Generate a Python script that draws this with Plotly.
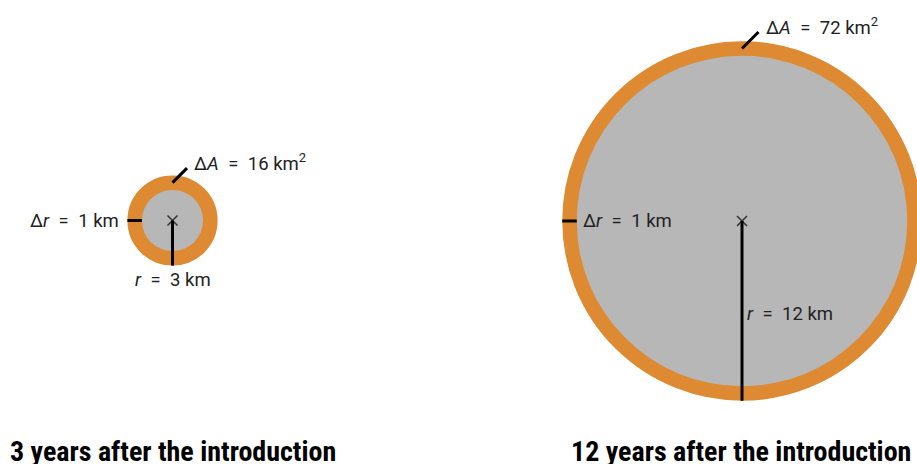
import plotly.graph_objects as go

# values shown in the figure
years = [3, 12]
radius_km = [3, 12]
delta_r_km = [1, 1]
delta_area_km2 = [16, 72]
titles = [f"{y} years after the introduction" for y in years]

ORANGE = "#DD8A33"
GREY = "#B7B7B7"
INK = "#222222"
W, H = 917, 464
RING_PX = 14.5  # drawn thickness of the orange ring
EQ = "\u2002=\u2002"

# each panel: where its centre sits (px from left / top) and px per km
panels = [
    dict(cx=172.5, cy=220.5, scale=10.2, dom=(0.0, 0.5)),
    dict(cx=742.0, cy=221.0, scale=13.77, dom=(0.5, 1.0)),
]

fig = go.Figure()
shapes = []
annotations = []
font = dict(family="Roboto", size=18.5, color=INK)

for i, p in enumerate(panels):
    ax = "" if i == 0 else str(i + 1)
    xref, yref = "x" + ax, "y" + ax
    s = p["scale"]
    x0px, x1px = p["dom"][0] * W, p["dom"][1] * W
    fig.update_layout(**{
        "xaxis" + ax: dict(domain=list(p["dom"]), visible=False, fixedrange=True,
                           range=[(x0px - p["cx"]) / s, (x1px - p["cx"]) / s]),
        "yaxis" + ax: dict(domain=[0, 1], visible=False, fixedrange=True,
                           range=[-(H - p["cy"]) / s, p["cy"] / s]),
    })
    r = radius_km[i]
    ring = RING_PX / s
    outer = r + ring

    # orange ring, then grey disc on top
    shapes.append(dict(type="circle", xref=xref, yref=yref, x0=-r, x1=r, y0=-r, y1=r,
                       line=dict(color=ORANGE, width=2 * RING_PX), fillcolor="rgba(0,0,0,0)",
                       layer="below"))
    shapes.append(dict(type="circle", xref=xref, yref=yref, x0=-r, x1=r, y0=-r, y1=r,
                       line=dict(width=0), fillcolor=GREY, layer="below"))

    # delta r tick across the ring on the left
    shapes.append(dict(type="line", xref=xref, yref=yref, x0=-outer, x1=-r, y0=0, y1=0,
                       line=dict(color="black", width=3)))
    # radius line from centre down to the outer edge
    shapes.append(dict(type="line", xref=xref, yref=yref, x0=0, x1=0, y0=0, y1=-outer,
                       line=dict(color="black", width=3)))
    # delta A pointer from the top of the ring
    ys = r + ring / 2
    d = (14.5 if i == 0 else 16.5) / s
    shapes.append(dict(type="line", xref=xref, yref=yref, x0=0, x1=d, y0=ys, y1=ys + d,
                       line=dict(color="black", width=3)))

    fig.add_trace(go.Scatter(x=[0], y=[0], xaxis=xref, yaxis=yref, mode="markers",
                             marker=dict(symbol="x-thin", size=10,
                                         line=dict(color="#333333", width=1.5)),
                             hoverinfo="skip", showlegend=False))

    annotations.append(dict(xref=xref, yref=yref, x=d, y=ys + d, xanchor="left", yanchor="middle",
                            xshift=5, yshift=6, showarrow=False, font=font,
                            text=f"Δ<i>A</i>{EQ}{delta_area_km2[i]} km<sup>2</sup>"))
    if i == 0:
        annotations.append(dict(xref=xref, yref=yref, x=-outer, y=0, xanchor="right",
                                yanchor="middle", xshift=-6, showarrow=False, font=font,
                                text=f"Δ<i>r</i>{EQ}{delta_r_km[i]} km"))
        annotations.append(dict(xref=xref, yref=yref, x=0, y=-outer, xanchor="center",
                                yanchor="top", yshift=-1, showarrow=False, font=font,
                                text=f"<i>r</i>{EQ}{r} km"))
    else:
        annotations.append(dict(xref=xref, yref=yref, x=-r, y=0, xanchor="left",
                                yanchor="middle", xshift=4, showarrow=False, font=font,
                                text=f"Δ<i>r</i>{EQ}{delta_r_km[i]} km"))
        annotations.append(dict(xref=xref, yref=yref, x=0, y=-outer * 0.5, xanchor="left",
                                yanchor="middle", xshift=3, yshift=-3, showarrow=False, font=font,
                                text=f"<i>r</i>{EQ}{r} km"))

title_font = dict(family="Roboto Condensed, Liberation Sans Narrow, DejaVu Sans Condensed, Arial Narrow, sans-serif",
                  size=28, color="black", weight="bold")
annotations.append(dict(xref="paper", yref="paper", x=8 / W, y=0, xanchor="left", yanchor="bottom",
                        yshift=-6, showarrow=False, font=title_font, text=titles[0]))
annotations.append(dict(xref="paper", yref="paper", x=913 / W, y=0, xanchor="right", yanchor="bottom",
                        yshift=-6, showarrow=False, font=title_font, text=titles[1]))

fig.update_layout(width=W, height=H, margin=dict(l=0, r=0, t=0, b=0),
                  paper_bgcolor="white", plot_bgcolor="white",
                  shapes=shapes, annotations=annotations)

fig.write_html("out.html", config={"displayModeBar": False},
               post_script="document.body.style.margin='0';")
